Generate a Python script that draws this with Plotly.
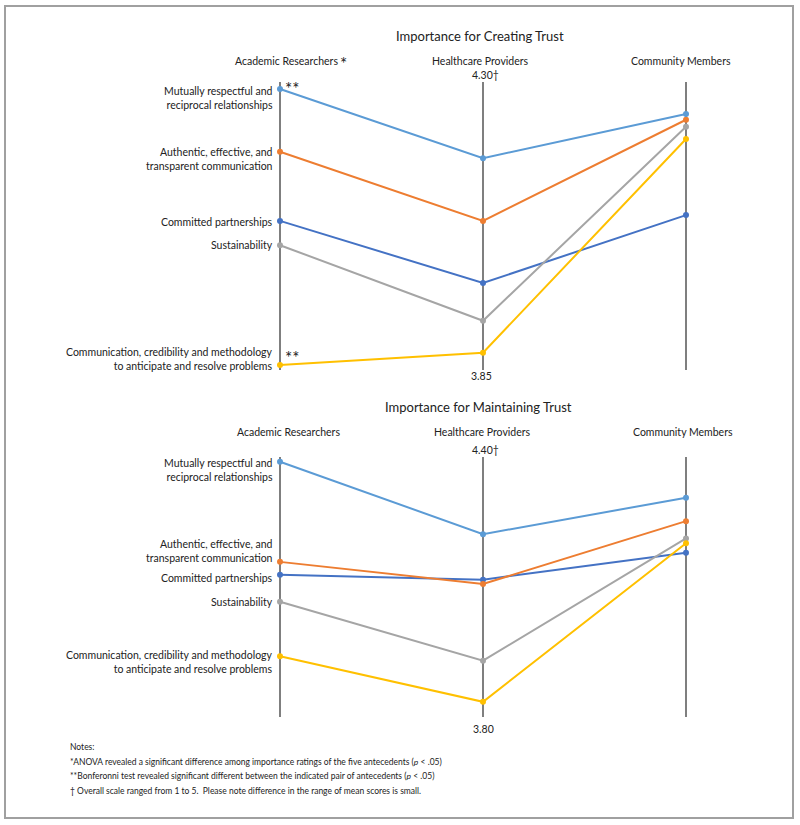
import plotly.graph_objects as go

W, H = 800, 825

# ---------------- data ----------------
groups = ["Academic Researchers", "Healthcare Providers", "Community Members"]
antecedents = [
    "Mutually respectful and<br>reciprocal relationships",
    "Authentic, effective, and<br>transparent communication",
    "Committed partnerships",
    "Sustainability",
    "Communication, credibility and methodology<br>to anticipate and resolve problems",
]
colors = ["#5B9BD5", "#ED7D31", "#4472C4", "#A5A5A5", "#FFC000"]

# Importance for Creating Trust (mean scores)
creating_mutual = [4.289, 4.181, 4.250]
creating_authentic = [4.191, 4.083, 4.241]
creating_committed = [4.083, 3.986, 4.092]
creating_sustain = [4.045, 3.927, 4.230]
creating_comm = [3.858, 3.877, 4.211]
creating_range = [3.85, 4.30]
creating_ticks = ["3.85", "4.30†"]

# Importance for Maintaining Trust (mean scores)
maintain_mutual = [4.389, 4.222, 4.306]
maintain_authentic = [4.158, 4.107, 4.252]
maintain_committed = [4.128, 4.117, 4.179]
maintain_sustain = [4.066, 3.930, 4.212]
maintain_comm = [3.940, 3.835, 4.201]
maintain_range = [3.80, 4.40]
maintain_ticks = ["3.80", "4.40†"]

creating = [creating_mutual, creating_authentic, creating_committed, creating_sustain, creating_comm]
maintain = [maintain_mutual, maintain_authentic, maintain_committed, maintain_sustain, maintain_comm]

FONT = "Lato"
AXIS_COLOR = "#7F7F7F"


def py(px):
    return 1 - px / H


fig = go.Figure()
xs = list(range(len(groups)))

draw_order = [2, 3, 4, 1, 0]
for i in draw_order:
    fig.add_trace(go.Scatter(x=xs, y=creating[i], mode="lines+markers",
                             line=dict(color=colors[i], width=2),
                             marker=dict(color=colors[i], size=6),
                             xaxis="x", yaxis="y", showlegend=False, hoverinfo="skip"))
    fig.add_trace(go.Scatter(x=xs, y=maintain[i], mode="lines+markers",
                             line=dict(color=colors[i], width=2),
                             marker=dict(color=colors[i], size=6),
                             xaxis="x2", yaxis="y2", showlegend=False, hoverinfo="skip"))

shapes = []
for xi in xs:
    shapes.append(dict(type="line", xref="x", yref="y", x0=xi, x1=xi,
                       y0=creating_range[0], y1=creating_range[1],
                       line=dict(color=AXIS_COLOR, width=2), layer="below"))
    shapes.append(dict(type="line", xref="x2", yref="y2", x0=xi, x1=xi,
                       y0=maintain_range[0], y1=maintain_range[1],
                       line=dict(color=AXIS_COLOR, width=2), layer="below"))
# frame
shapes.append(dict(type="rect", xref="paper", yref="paper",
                   x0=5 / W, x1=793 / W, y0=py(818), y1=py(6),
                   line=dict(color="#A0A0A0", width=2)))

ann = []
txt = dict(family=FONT, size=10.5, color="#222")

# titles
ann.append(dict(text="Importance for Creating Trust", xref="paper", yref="paper",
                x=480 / W, y=py(36), xanchor="center", yanchor="middle", showarrow=False,
                font=dict(family=FONT, size=13, color="#222")))
ann.append(dict(text="Importance for Maintaining Trust", xref="paper", yref="paper",
                x=478 / W, y=py(407), xanchor="center", yanchor="middle", showarrow=False,
                font=dict(family=FONT, size=13, color="#222")))

# axis titles
title_shift = [6, -3, -5]
for xi, g in enumerate(groups):
    ann.append(dict(text=g, xref="x", yref="paper", x=xi, y=py(61), showarrow=False,
                    xanchor="center", yanchor="middle",
                    xshift=title_shift[xi], font=txt))
    ann.append(dict(text=g, xref="x2", yref="paper", x=xi, y=py(432), showarrow=False,
                    xanchor="center", yanchor="middle",
                    xshift=title_shift[xi] + 2, font=txt))
# large asterisk after "Academic Researchers"
ann.append(dict(text="*", xref="paper", yref="paper", x=338 / W, y=py(63), showarrow=False,
                xanchor="left", yanchor="middle",
                font=dict(family=FONT, size=17, color="#222")))

# tick labels on middle axis
ann.append(dict(text=creating_ticks[1], xref="x", yref="y", x=1, y=creating_range[1],
                yshift=7, showarrow=False, font=txt, xshift=2, yanchor="middle"))
ann.append(dict(text=creating_ticks[0], xref="x", yref="y", x=1, y=creating_range[0],
                yshift=-6, showarrow=False, font=txt, xshift=-2, yanchor="middle"))
ann.append(dict(text=maintain_ticks[1], xref="x2", yref="y2", x=1, y=maintain_range[1],
                yshift=7, showarrow=False, font=txt, xshift=2, yanchor="middle"))
ann.append(dict(text=maintain_ticks[0], xref="x2", yref="y2", x=1, y=maintain_range[0],
                yshift=-12, showarrow=False, font=txt, yanchor="middle"))

# antecedent labels at the Academic Researchers axis
shift_c = [-9, -7, -1, 0, 6]
shift_m = [-8, 11, -3, 0, -6]
for i, lab in enumerate(antecedents):
    ann.append(dict(text=lab, xref="x", yref="y", x=0, y=creating[i][0], xanchor="right",
                    yanchor="middle", align="right", xshift=-5, yshift=shift_c[i],
                    showarrow=False, font=txt))
    ann.append(dict(text=lab, xref="x2", yref="y2", x=0, y=maintain[i][0], xanchor="right",
                    yanchor="middle", align="right", xshift=-5, yshift=shift_m[i],
                    showarrow=False, font=txt))

# significance markers
for i in (0, 4):
    ann.append(dict(text="**", xref="x", yref="y", x=0, y=creating[i][0], xanchor="left",
                    yanchor="middle", xshift=3, yshift=(1 if i == 0 else 7), showarrow=False,
                    font=dict(family=FONT, size=17, color="#222")))

# notes
notes = [
    "Notes:",
    "*ANOVA revealed a significant difference among importance ratings of the five antecedents (<i>p</i> < .05)",
    "**Bonferonni test revealed significant different between the indicated pair of antecedents (<i>p</i> < .05)",
    "† Overall scale ranged from 1 to 5.  Please note difference in the range of mean scores is small.",
]
for k, n in enumerate(notes):
    ann.append(dict(text=n, xref="paper", yref="paper", x=68 / W, y=py(747 + 14.7 * k),
                    xanchor="left", yanchor="middle", showarrow=False,
                    font=dict(family=FONT, size=8.5, color="#222")))

# x: 0 -> 280px, 2 -> 686px
unit = (686 - 280) / 2
x0 = -280 / unit
x1 = x0 + W / unit
hid = dict(visible=False, showgrid=False, zeroline=False)

fig.update_layout(
    width=W, height=H, margin=dict(l=0, r=0, t=0, b=0),
    paper_bgcolor="white", plot_bgcolor="white",
    xaxis=dict(domain=[0, 1], range=[x0, x1], anchor="y", **hid),
    yaxis=dict(domain=[py(370), py(82)], range=creating_range, anchor="x", **hid),
    xaxis2=dict(domain=[0, 1], range=[x0, x1], anchor="y2", **hid),
    yaxis2=dict(domain=[py(717), py(457)], range=maintain_range, anchor="x2", **hid),
    shapes=shapes, annotations=ann, showlegend=False,
)

fig.write_html("out.html", config={"displayModeBar": False},
               post_script="document.body.style.margin='0';document.body.style.overflow='hidden';")
